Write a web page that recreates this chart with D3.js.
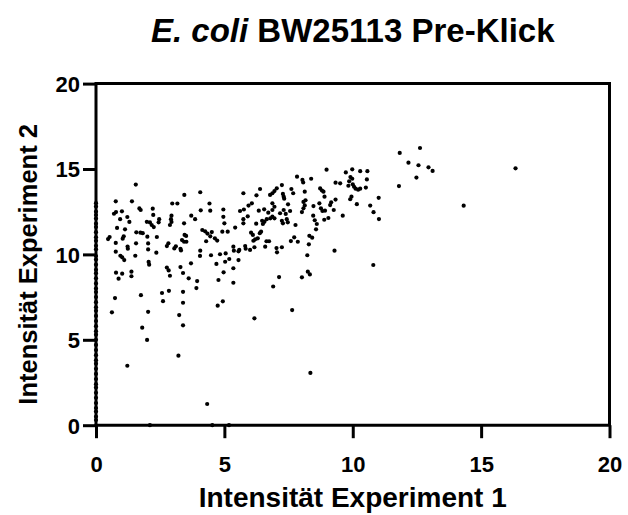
<!DOCTYPE html>
<html>
<head>
<meta charset="utf-8">
<script src="https://cdn.jsdelivr.net/npm/d3@7"></script>
<style>
  html, body { margin: 0; padding: 0; background: #fff; }
  svg { display: block; font-family: "Liberation Sans", Arial, sans-serif; }
</style>
</head>
<body>
<svg id="chart" width="628" height="515"></svg>
<script>
// Intensities of proteins detected in both experiments (x = experiment 1, y = experiment 2)
const exp1 = [
  1.55,0.77,1.40,2.97,3.17,1.69,1.74,2.21,1.01,0.70,0.78,2.23,1.22,2.94,2.92,2.94,0.94,2.46,2.44,1.98,
  2.10,1.30,2.17,2.25,2.88,0.82,1.13,1.57,1.73,1.82,2.00,2.37,3.45,0.53,0.47,1.08,1.04,3.35,3.43,1.56,
  0.77,2.03,2.82,2.76,1.23,1.24,2.03,3.11,3.05,3.29,3.31,0.77,2.35,0.95,1.02,1.53,1.10,2.05,2.07,2.76,
  3.29,3.44,3.43,0.78,1.02,0.88,1.38,1.38,2.83,2.88,3.39,3.61,0.74,1.75,2.57,2.61,2.84,3.39,3.39,0.62,
  2.03,3.24,3.39,1.80,1.99,1.22,3.21,4.06,5.74,6.39,6.25,7.24,7.04,6.95,6.87,6.78,4.42,4.45,4.08,3.71,
  3.86,4.96,4.96,5.00,5.61,5.76,5.94,6.07,5.91,5.74,5.74,6.24,6.34,6.55,6.71,6.87,6.95,6.87,6.47,6.56,
  6.65,6.79,6.87,6.95,6.50,4.14,4.25,4.34,4.51,4.45,4.92,5.13,5.42,3.51,3.52,4.72,4.63,4.29,6.04,6.11,
  6.13,6.20,6.30,6.38,6.43,5.35,5.37,5.55,5.58,5.81,5.83,6.00,6.17,6.64,6.74,7.03,7.05,7.24,4.06,4.05,
  4.48,4.83,5.05,5.19,5.03,5.55,3.70,4.69,5.35,3.94,3.91,4.77,4.97,5.35,4.94,4.74,6.17,7.13,6.90,4.33,
  8.98,9.98,10.29,10.57,9.73,7.83,8.38,8.04,8.07,9.91,9.98,9.86,10.55,9.33,9.51,9.83,10.00,10.05,10.11,10.21,
  10.29,10.51,7.61,7.68,8.73,8.80,8.86,8.13,7.28,7.31,7.33,8.90,9.95,9.90,11.01,9.33,8.16,8.08,8.13,8.08,
  8.02,7.48,8.70,8.76,8.82,8.92,9.12,9.16,10.16,10.68,8.47,8.46,8.52,8.60,8.57,9.26,7.31,7.56,10.81,7.17,
  7.39,7.43,7.47,9.61,9.05,8.89,11.02,7.24,7.28,7.77,7.72,8.31,8.42,6.59,8.02,8.25,8.33,7.64,8.35,9.29,
  10.80,8.23,8.29,7.59,7.86,12.62,11.83,12.17,12.56,12.95,13.11,12.48,11.80,14.32,16.34,
  2.10,4.53,5.18
];
const exp2 = [
  14.09,13.11,13.11,12.98,12.98,12.69,12.60,12.68,12.52,12.38,12.48,12.31,12.19,12.27,12.06,11.90,12.06,12.06,11.88,11.91,
  11.87,11.90,11.72,11.60,11.72,11.55,11.47,11.29,11.27,11.24,11.04,11.02,11.14,11.02,10.90,11.06,10.92,10.84,10.74,10.65,
  10.67,10.64,10.65,10.49,10.46,10.33,10.29,10.47,10.35,10.33,10.23,10.16,10.10,9.92,9.83,9.92,9.67,9.56,9.40,9.23,
  9.26,13.48,11.82,8.93,8.87,8.58,8.99,8.72,9.06,8.75,8.91,8.60,7.44,7.61,7.74,7.26,7.87,7.81,7.17,6.61,
  6.64,6.45,5.85,5.71,4.99,3.48,4.07,13.64,13.58,13.83,13.46,14.06,13.87,13.71,13.58,13.48,12.98,12.56,12.58,12.27,
  12.06,12.63,12.20,11.82,12.54,12.63,12.86,12.99,12.23,12.06,11.82,11.80,12.56,12.64,12.44,12.60,12.79,12.99,11.97,11.91,
  12.06,12.11,12.21,12.11,11.78,11.43,11.35,11.22,11.31,11.06,11.33,11.33,11.57,11.08,10.74,10.81,10.94,10.77,11.27,11.14,
  10.80,10.88,10.94,11.24,11.33,10.45,10.22,10.18,10.26,10.49,10.33,10.26,10.42,10.77,10.77,10.37,10.12,10.42,10.22,9.91,
  9.95,10.01,10.06,9.73,9.57,9.67,9.48,9.44,9.19,8.44,8.03,8.50,8.95,8.34,7.25,7.00,6.26,8.67,8.12,1.24,
  14.96,14.98,14.87,14.87,14.80,14.55,14.43,14.36,14.21,14.53,14.43,14.28,14.39,14.20,14.16,14.02,14.10,13.96,13.85,13.79,
  13.85,13.91,13.83,13.58,13.86,13.74,13.67,13.67,13.54,13.38,13.26,13.38,13.38,13.23,13.31,13.21,13.17,13.07,12.87,12.70,
  12.48,12.93,12.99,12.70,12.54,12.56,12.89,13.05,12.94,12.86,12.83,12.27,12.00,11.78,11.47,12.60,12.60,12.54,12.47,12.41,
  12.37,12.06,11.88,12.27,12.13,12.03,12.07,11.97,11.82,11.72,11.00,11.09,10.98,10.45,8.66,8.99,8.83,6.74,3.06,10.22,
  9.38,9.95,10.59,10.78,10.74,16.23,15.94,15.37,15.22,15.10,14.89,14.50,14.00,12.85,15.04,
  0,0,0
];
// Proteins found only in experiment 2 sit on the y axis (experiment 1 = 0)
const onlyExp2 = [
  13.0,12.8,12.5,12.3,12.1,11.8,11.6,11.3,11.0,10.8,10.5,10.3,9.9,9.7,9.4,9.1,8.9,8.6,8.3,8.0,
  7.8,7.5,7.2,6.9,6.7,6.4,6.1,5.8,5.5,5.3,5.0,4.7,4.4,4.1,3.8,3.6,3.3,3.0,2.7,2.4,
  2.2,1.9,1.6,1.3,1.0,0.8,0.5,0.3
];
const xTicks = [0, 5, 10, 15, 20];
const yTicks = [0, 5, 10, 15, 20];
const titleItalic = "E. coli";
const titleRest = " BW25113 Pre-Klick";
const xTitle = "Intensität Experiment 1";
const yTitle = "Intensität Experiment 2";

const svg = d3.select("#chart");
const m = { left: 96, right: 18.5, top: 83.6, bottom: 89.8 };
const W = 628, H = 515;
const x = d3.scaleLinear().domain([0, 20]).range([m.left, W - m.right]);
const y = d3.scaleLinear().domain([0, 20]).range([H - m.bottom, m.top]);

const points = exp1.map((v, i) => ({ x: v, y: exp2[i] }))
  .concat(onlyExp2.map(v => ({ x: 0, y: v })));

// frame: top and right edges
svg.append("path")
  .attr("d", `M${x(0)},${y(20)}H${x(20)}V${y(0)}`)
  .attr("fill", "none").attr("stroke", "#000").attr("stroke-width", 3);

const xAxis = svg.append("g")
  .attr("transform", `translate(0,${y(0)})`)
  .call(d3.axisBottom(x).tickValues(xTicks).tickSize(13).tickPadding(18));
const yAxis = svg.append("g")
  .attr("transform", `translate(${x(0)},0)`)
  .call(d3.axisLeft(y).tickValues(yTicks).tickSize(13).tickPadding(3));

[xAxis, yAxis].forEach(g => {
  g.select(".domain").attr("stroke-width", 3).attr("d",
    g === xAxis ? `M${x(0) - 1.5},0H${x(20) + 1.5}` : `M0,${y(0) + 1.5}V${y(20) - 1.5}`);
  g.selectAll(".tick line").attr("stroke-width", 3);
  g.selectAll(".tick text")
    .attr("font-family", "'Liberation Sans', Arial, sans-serif")
    .attr("font-size", 22).attr("font-weight", "bold").attr("fill", "#000");
});
yAxis.selectAll(".tick text").attr("dy", "0.36em");

svg.append("g").selectAll("circle").data(points).join("circle")
  .attr("cx", d => x(d.x)).attr("cy", d => y(d.y))
  .attr("r", 2.1).attr("fill", "#000");

// titles
const title = svg.append("text")
  .attr("x", (x(0) + x(20)) / 2).attr("y", 42)
  .attr("text-anchor", "middle")
  .attr("font-size", 33).attr("font-weight", "bold");
title.append("tspan").attr("font-style", "italic").text(titleItalic);
title.append("tspan").text(titleRest);

svg.append("text")
  .attr("x", (x(0) + x(20)) / 2).attr("y", 507)
  .attr("text-anchor", "middle")
  .attr("font-size", 28).attr("font-weight", "bold")
  .text(xTitle);

svg.append("text")
  .attr("transform", `translate(37,${(y(0) + y(20)) / 2 + 10}) rotate(-90)`)
  .attr("text-anchor", "middle")
  .attr("font-size", 25.5).attr("font-weight", "bold")
  .text(yTitle);
</script>
</body>
</html>
